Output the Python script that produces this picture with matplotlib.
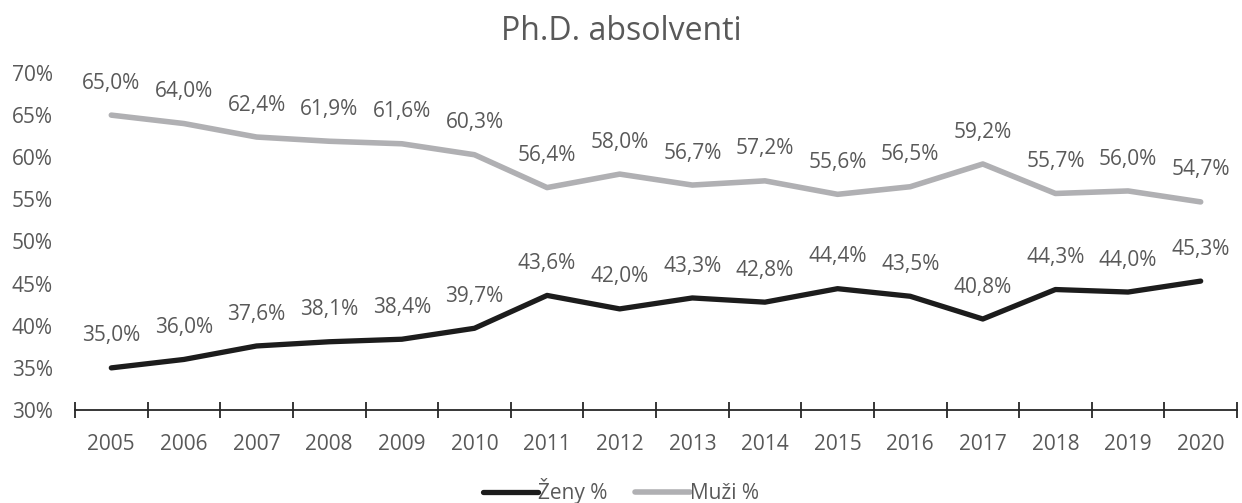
import matplotlib
matplotlib.use("Agg")
import matplotlib.pyplot as plt
from matplotlib.ticker import FixedLocator, MultipleLocator, FuncFormatter

years = ["2005", "2006", "2007", "2008", "2009", "2010", "2011", "2012",
         "2013", "2014", "2015", "2016", "2017", "2018", "2019", "2020"]
zeny = [35.0, 36.0, 37.6, 38.1, 38.4, 39.7, 43.6, 42.0, 43.3, 42.8, 44.4, 43.5, 40.8, 44.3, 44.0, 45.3]
muzi = [65.0, 64.0, 62.4, 61.9, 61.6, 60.3, 56.4, 58.0, 56.7, 57.2, 55.6, 56.5, 59.2, 55.7, 56.0, 54.7]

plt.rcParams['font.family'] = ['Open Sans', 'DejaVu Sans']
txt = '#595959'
fs = 15

fig = plt.figure(figsize=(12.42, 5.03), dpi=100)
ax = fig.add_axes([75/1242, 1-410/503, (1237-75)/1242, (410-73)/503])

x = list(range(len(years)))
l1, = ax.plot(x, zeny, color='#1c1c1c', lw=3.8, solid_capstyle='round', label='Ženy %')
l2, = ax.plot(x, muzi, color='#b0b0b3', lw=4.0, solid_capstyle='round', label='Muži %')

def fmt(v):
    return f"{v:.1f}%".replace('.', ',')

for xi, v in zip(x, zeny):
    ax.annotate(fmt(v), (xi, v), xytext=(0, 23), textcoords='offset points',
                ha='center', va='center', fontsize=fs, color=txt)
for xi, v in zip(x, muzi):
    ax.annotate(fmt(v), (xi, v), xytext=(0, 23), textcoords='offset points',
                ha='center', va='center', fontsize=fs, color=txt)

ax.set_xlim(-0.5, len(years) - 0.5)
ax.set_ylim(30, 70)
ax.yaxis.set_major_locator(MultipleLocator(5))
ax.yaxis.set_major_formatter(FuncFormatter(lambda v, p: f"{v:.0f}%"))
ax.set_xticks(x)
ax.set_xticklabels(years)
ax.xaxis.set_minor_locator(FixedLocator([i - 0.5 for i in range(len(years) + 1)]))
ax.tick_params(axis='x', which='major', length=0, pad=17.5, labelsize=fs, labelcolor=txt)
ax.tick_params(axis='x', which='minor', length=11, width=1.3, direction='inout', color='#262626')
ax.tick_params(axis='y', length=0, pad=16, labelsize=fs, labelcolor=txt)
for s in ['top', 'right', 'left']:
    ax.spines[s].set_visible(False)
ax.spines['bottom'].set_color('#262626')
ax.spines['bottom'].set_linewidth(1.3)

fig.text(0.5, 1 - 32/503, 'Ph.D. absolventi', ha='center', va='center', fontsize=23, color=txt)

fig.legend(handles=[l1, l2], loc='center', bbox_to_anchor=(0.5, 1 - 491/503), ncol=2,
           frameon=False, fontsize=fs, labelcolor=txt, handlelength=2.65,
           handletextpad=0.0, columnspacing=1.3, borderpad=0, borderaxespad=0)

fig.savefig('out.png', dpi=100)
